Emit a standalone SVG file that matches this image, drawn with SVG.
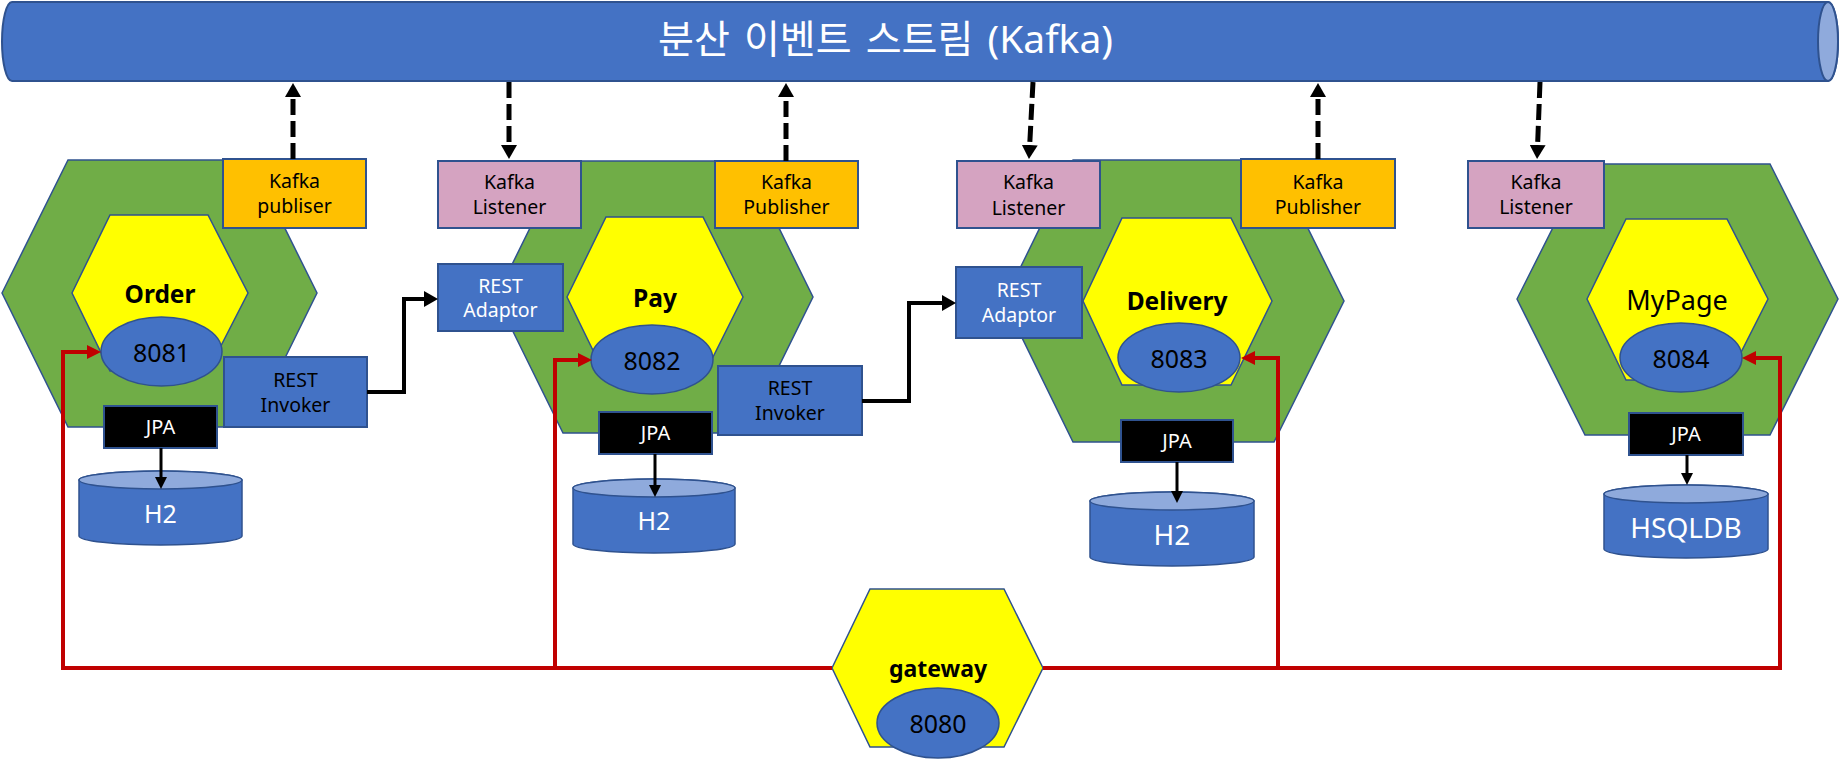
<svg xmlns="http://www.w3.org/2000/svg" width="1840" height="759" viewBox="0 0 1840 759">
<defs>
<style>
text{font-family:"Noto Sans","Noto Sans CJK KR",sans-serif;text-anchor:middle}
.green{fill:#70AD47;stroke:#2F528F;stroke-width:1.5}
.yellow{fill:#FFFF00;stroke:#2F528F;stroke-width:1.5}
.port{fill:#4472C4;stroke:#2F528F;stroke-width:1.5}
.pub{fill:#FFC000;stroke:#2F528F;stroke-width:2}
.lis{fill:#D5A3C1;stroke:#2F528F;stroke-width:2}
.rest{fill:#4472C4;stroke:#2F528F;stroke-width:2}
.jpa{fill:#000000;stroke:#2F528F;stroke-width:2}
.db{fill:#4472C4;stroke:#2F528F;stroke-width:1.5}
.dbtop{fill:#8FAADC;stroke:#2F528F;stroke-width:1.5}
.name{font-size:24.5px;font-weight:bold;fill:#000}
.portt{font-size:25px;fill:#000}
.box{font-size:19.5px;fill:#000}
.wbox{font-size:19.5px;fill:#fff}
.jpat{font-size:20px;fill:#fff}
.dbt{font-size:25px;fill:#fff}
.dbt2{font-size:28px;fill:#fff}
.dash{fill:none;stroke:#000;stroke-width:5;stroke-dasharray:16 6;marker-end:url(#ak)}
.rcall{fill:none;stroke:#000;stroke-width:4;marker-end:url(#ak)}
.jarr{fill:none;stroke:#000;stroke-width:3;marker-end:url(#as)}
.red{fill:none;stroke:#C00000;stroke-width:4;marker-end:url(#ar)}
</style>
<marker id="ak" viewBox="0 0 14 16" markerWidth="14" markerHeight="16" markerUnits="userSpaceOnUse" refX="0" refY="8" orient="auto"><path d="M0,0 L14,8 L0,16 Z" fill="#000"/></marker>
<marker id="as" viewBox="0 0 12 12" markerWidth="12" markerHeight="12" markerUnits="userSpaceOnUse" refX="0" refY="6" orient="auto"><path d="M0,0 L12,6 L0,12 Z" fill="#000"/></marker>
<marker id="ar" viewBox="0 0 14 14" markerWidth="14" markerHeight="14" markerUnits="userSpaceOnUse" refX="0" refY="7" orient="auto"><path d="M0,0 L14,7 L0,14 Z" fill="#C00000"/></marker>
</defs>
<rect width="1840" height="759" fill="#fff"/>

<g id="kafka">
<path d="M12,2 H1828 A10,39.5 0 0 1 1828,81 H12 A10,39.5 0 0 1 12,2 Z" fill="#4472C4" stroke="#2F528F" stroke-width="2"/>
<ellipse cx="1828" cy="41.5" rx="10" ry="39.5" fill="#8FAADC" stroke="#2F528F" stroke-width="2"/>
<text x="658" y="53" style="text-anchor:start;font-size:39px;fill:#fff;word-spacing:4px">분산 이벤트 스트림 (Kafka)</text>
</g>

<g id="order">
<polygon class="green" points="2,293 68,160 251,160 317,293 251,427 68,427"/>
<polygon class="yellow" points="72,293 110,215 208,215 248,293 208,371 110,371"/>
<text class="name" x="160" y="303">Order</text>
<ellipse class="port" cx="161.5" cy="351.5" rx="60.5" ry="34.5"/>
<text class="portt" x="161.5" y="362">8081</text>
<rect class="pub" x="223" y="159" width="143" height="69"/>
<text class="box" x="294.5" y="188">Kafka</text>
<text class="box" x="294.5" y="213">publiser</text>
<rect class="rest" x="224" y="357" width="143" height="70"/>
<text class="box" x="295.5" y="387">REST</text>
<text class="box" x="295.5" y="412">Invoker</text>
<rect class="jpa" x="104" y="406" width="113" height="42"/>
<text class="jpat" x="160.5" y="434">JPA</text>
<path class="db" d="M79,480 A81.5,9 0 0 1 242,480 V536 A81.5,9 0 0 1 79,536 Z"/>
<ellipse class="dbtop" cx="160.5" cy="480" rx="81.5" ry="9"/>
<text class="dbt" x="160.5" y="523">H2</text>
</g>

<g id="pay">
<polygon class="green" points="496,297 563,161 746,161 813,297 746,433 563,433"/>
<polygon class="yellow" points="567,297 606,217 703,217 743,297 703,377 606,377"/>
<text class="name" x="655" y="307">Pay</text>
<ellipse class="port" cx="652" cy="359.5" rx="61" ry="34.5"/>
<text class="portt" x="652" y="370">8082</text>
<rect class="lis" x="438" y="161" width="143" height="67"/>
<text class="box" x="509.5" y="189">Kafka</text>
<text class="box" x="509.5" y="214">Listener</text>
<rect class="pub" x="715" y="161" width="143" height="67"/>
<text class="box" x="786.5" y="189">Kafka</text>
<text class="box" x="786.5" y="214">Publisher</text>
<rect class="rest" x="438" y="264" width="125" height="67"/>
<text class="wbox" x="500.5" y="293">REST</text>
<text class="wbox" x="500.5" y="317">Adaptor</text>
<rect class="rest" x="718" y="366" width="144" height="69"/>
<text class="box" x="790" y="395">REST</text>
<text class="box" x="790" y="420">Invoker</text>
<rect class="jpa" x="599" y="412" width="113" height="42"/>
<text class="jpat" x="655.5" y="440">JPA</text>
<path class="db" d="M573,488 A81,9 0 0 1 735,488 V544 A81,9 0 0 1 573,544 Z"/>
<ellipse class="dbtop" cx="654" cy="488" rx="81" ry="9"/>
<text class="dbt" x="654" y="530">H2</text>
</g>

<g id="delivery">
<polygon class="green" points="1004,301 1073,160 1274,160 1344,301 1274,442 1073,442"/>
<polygon class="yellow" points="1083,301 1122,218 1231,218 1272,301 1231,385 1122,385"/>
<text class="name" x="1177" y="310">Delivery</text>
<ellipse class="port" cx="1179" cy="357.5" rx="61" ry="34.5"/>
<text class="portt" x="1179" y="368">8083</text>
<rect class="lis" x="957" y="161" width="143" height="67"/>
<text class="box" x="1028.5" y="189">Kafka</text>
<text class="box" x="1028.5" y="215">Listener</text>
<rect class="pub" x="1241" y="159" width="154" height="69"/>
<text class="box" x="1318" y="189">Kafka</text>
<text class="box" x="1318" y="214">Publisher</text>
<rect class="rest" x="956" y="267" width="126" height="71"/>
<text class="wbox" x="1019" y="297">REST</text>
<text class="wbox" x="1019" y="322">Adaptor</text>
<rect class="jpa" x="1121" y="420" width="112" height="42"/>
<text class="jpat" x="1177" y="448">JPA</text>
<path class="db" d="M1090,501 A82,9 0 0 1 1254,501 V557 A82,9 0 0 1 1090,557 Z"/>
<ellipse class="dbtop" cx="1172" cy="501" rx="82" ry="9"/>
<text class="dbt2" x="1172" y="545">H2</text>
</g>

<g id="mypage">
<polygon class="green" points="1517,299 1585,164 1770,164 1838,299 1770,435 1585,435"/>
<polygon class="yellow" points="1587,299 1626,219 1727,219 1768,299 1727,380 1626,380"/>
<text x="1677" y="310" style="font-size:27px;fill:#000">MyPage</text>
<ellipse class="port" cx="1681" cy="357.5" rx="61" ry="34.5"/>
<text class="portt" x="1681" y="368">8084</text>
<rect class="lis" x="1468" y="161" width="136" height="67"/>
<text class="box" x="1536" y="189">Kafka</text>
<text class="box" x="1536" y="214">Listener</text>
<rect class="jpa" x="1629" y="413" width="114" height="42"/>
<text class="jpat" x="1686" y="441">JPA</text>
<path class="db" d="M1604,494 A82,9 0 0 1 1768,494 V549 A82,9 0 0 1 1604,549 Z"/>
<ellipse class="dbtop" cx="1686" cy="494" rx="82" ry="9"/>
<text class="dbt2" x="1686" y="538">HSQLDB</text>
</g>

<g id="gateway">
<polygon class="yellow" points="832,668 870,589 1004,589 1043,668 1004,747 870,747"/>
<text class="name" x="938" y="677" style="font-size:23px">gateway</text>
<ellipse class="port" cx="938" cy="723" rx="61" ry="35"/>
<text class="portt" x="938" y="733">8080</text>
</g>

<g id="connectors">
<path class="dash" d="M293,159 V97"/>
<path class="dash" d="M509,82 V145"/>
<path class="dash" d="M786,161 V97"/>
<path class="dash" d="M1033,82 L1029.7,145"/>
<path class="dash" d="M1318,159 V97"/>
<path class="dash" d="M1540,82 L1537.6,145"/>
<path class="rcall" d="M367,392 H404 V299 H424"/>
<path class="rcall" d="M862,401 H909 V303 H942"/>
<path class="jarr" d="M161,448 V477"/>
<path class="jarr" d="M655,454 V485"/>
<path class="jarr" d="M1177,462 V491"/>
<path class="jarr" d="M1687,455 V473"/>
<path class="red" d="M832,668 H63 V352 H87"/>
<path class="red" d="M832,668 H555 V360 H578"/>
<path class="red" d="M1043,668 H1278 V358 H1255"/>
<path class="red" d="M1043,668 H1780 V358 H1756"/>
</g>
</svg>
